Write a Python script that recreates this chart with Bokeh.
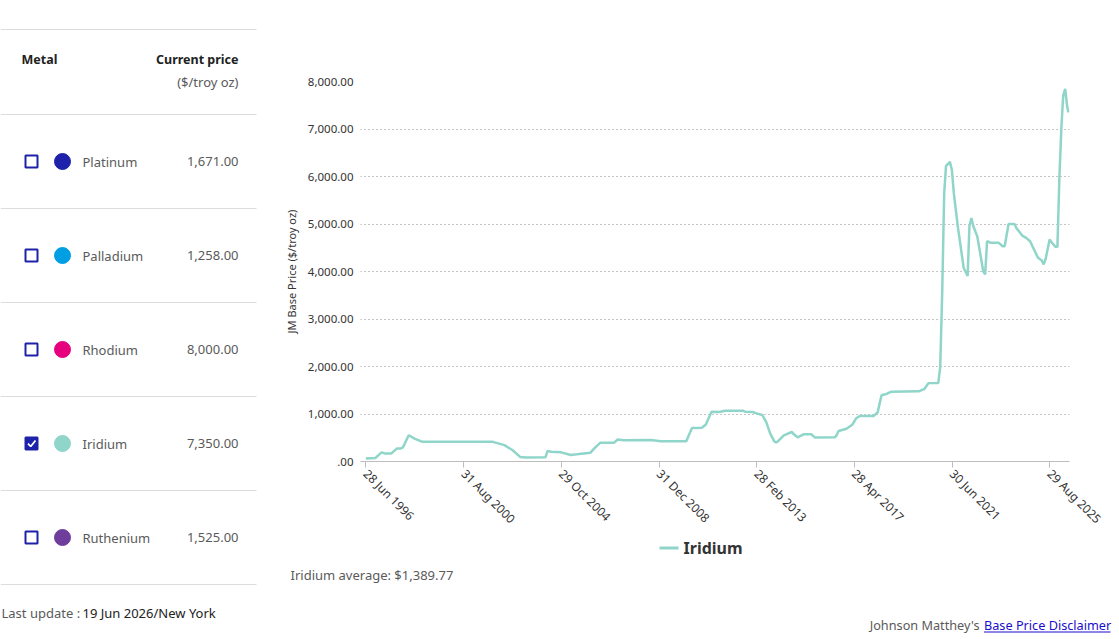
import math
import pandas as pd
from bokeh.plotting import figure
from bokeh.layouts import row, column
from bokeh.models import Range1d, FixedTicker, DatetimeTickFormatter, ColumnDataSource
from bokeh.core.properties import value
from bokeh.embed import file_html
from bokeh.resources import INLINE

FONT = "Noto Sans"

# ---- metal table -------------------------------------------------------
metals = ["Platinum", "Palladium", "Rhodium", "Iridium", "Ruthenium"]
metal_colors = ["#1e22aa", "#009ee3", "#e6007e", "#8fd5c9", "#6f3d9b"]
current_prices = [1671.00, 1258.00, 8000.00, 7350.00, 1525.00]
selected = [False, False, False, True, False]
last_update = "19 Jun 2026/New York"

# ---- Iridium base price history ($/troy oz) -----------------------------
iridium_dates = [
    "1996-06-28", "1996-11-28", "1997-02-28", "1997-04-28", "1997-07-28",
    "1997-10-28", "1997-12-28", "1998-01-28", "1998-04-28", "1998-07-28",
    "1998-11-28", "2001-11-28", "2002-05-28", "2002-09-28", "2003-01-28",
    "2003-04-28", "2004-02-28", "2004-03-28", "2004-05-28", "2004-10-28",
    "2005-03-28", "2005-06-28", "2006-01-28", "2006-03-28", "2006-06-28",
    "2007-01-28", "2007-03-28", "2007-06-28", "2008-08-28", "2009-01-28",
    "2010-02-28", "2010-03-28", "2010-05-28", "2010-10-28", "2010-12-28",
    "2011-03-28", "2011-07-28", "2011-10-28", "2012-07-28", "2012-08-28",
    "2012-12-28", "2013-02-28", "2013-05-28", "2013-07-28", "2013-09-28",
    "2013-11-28", "2013-12-28", "2014-01-28", "2014-04-28", "2014-08-28",
    "2014-09-28", "2014-11-28", "2015-02-28", "2015-06-28", "2015-08-28",
    "2016-06-28", "2016-07-28", "2016-08-28", "2016-12-28", "2017-03-28",
    "2017-05-28", "2017-07-28", "2018-02-28", "2018-04-28", "2018-06-28",
    "2018-08-28", "2018-11-28", "2020-01-28", "2020-04-28", "2020-06-28",
    "2020-11-28", "2020-12-28", "2021-01-28", "2021-02-28", "2021-03-28",
    "2021-05-28", "2021-06-28", "2021-07-28", "2021-08-28", "2021-09-28",
    "2021-12-28", "2022-02-28", "2022-03-28", "2022-04-28", "2022-05-28",
    "2022-07-28", "2022-09-28", "2022-10-28", "2022-11-28", "2022-12-28",
    "2023-02-28", "2023-06-28", "2023-08-28", "2023-09-28", "2023-11-28",
    "2024-02-28", "2024-03-28", "2024-06-28", "2024-08-28", "2024-10-28",
    "2025-02-28", "2025-04-28", "2025-05-28", "2025-06-28", "2025-08-28",
    "2025-09-28", "2025-11-28", "2025-12-28", "2026-01-28", "2026-02-28",
    "2026-03-28", "2026-04-28", "2026-05-28", "2026-06-19",
]
iridium_prices = [
    62, 76, 193, 166, 166,
    276, 276, 297, 552, 483,
    414, 414, 345, 241, 97,
    83, 90, 221, 207, 193,
    138, 152, 186, 276, 393,
    393, 462, 448, 455, 428,
    428, 517, 703, 710, 775,
    1048, 1041, 1069, 1069, 1048,
    1041, 1014, 979, 828, 586,
    428, 400, 428, 552, 621,
    579, 510, 572, 572, 503,
    510, 552, 641, 690, 772,
    910, 959, 959, 1034, 1393,
    1414, 1470, 1478, 1530, 1650,
    1655, 1987, 3557, 5649, 6220,
    6311, 6137, 5649, 5300, 4951,
    4080, 3905, 4951, 5126, 4951,
    4742, 4254, 4010, 3940, 4637,
    4603, 4603, 4533, 4533, 5000,
    5000, 4916, 4756, 4707, 4637,
    4289, 4233, 4149, 4268, 4672,
    4616, 4519, 4519, 5997, 7043,
    7706, 7845, 7476, 7350,
]
iridium_average = 1389.77

tick_dates = ["1996-06-28", "2000-08-31", "2004-10-29", "2008-12-31",
              "2013-02-28", "2017-04-28", "2021-06-30", "2025-08-29"]
price_ticks = [0, 1000, 2000, 3000, 4000, 5000, 6000, 7000, 8000]


def ms(d):
    return pd.Timestamp(d).timestamp() * 1000.0


TEXT_DARK = "#333333"
TEXT_GREY = "#5a5a5a"
RULE = "#dcdcdc"
NAVY = "#1e22aa"
LINK = "#1a0dcc"
IRIDIUM = "#8fd5c9"

W, H = 1119, 639
W_LEFT = 270
W_RIGHT = W - W_LEFT
H_CHART = 535               # chart band on the right
H_FOOT = H - H_CHART        # legend, average and disclaimer band

# ---- left panel: metal list --------------------------------------------
left = figure(width=W_LEFT, height=H, x_range=Range1d(0, W_LEFT), y_range=Range1d(H, 0),
              x_axis_type=None, y_axis_type=None, toolbar_location=None,
              output_backend="svg", min_border=0, outline_line_color=None)

row_y = [161 + 94 * i for i in range(len(metals))]
rules_y = [29] + [114 + 94 * i for i in range(len(metals) + 1)]
left.segment(x0=0, x1=256, y0=rules_y, y1=rules_y, line_color=RULE, line_width=1)

left.text(x=[21], y=[59], text=["Metal"], text_font=value(FONT), text_font_size="12.5px",
          text_font_style="bold", text_color="#222222", text_baseline="middle")
left.text(x=[238], y=[59], text=["Current price"], text_font=value(FONT), text_font_size="12.5px",
          text_font_style="bold", text_color="#222222", text_baseline="middle", text_align="right")
left.text(x=[238], y=[81], text=["($/troy oz)"], text_font=value(FONT), text_font_size="13px",
          text_color=TEXT_GREY, text_baseline="middle", text_align="right")

tbl = ColumnDataSource(dict(
    y=row_y, name=metals, color=metal_colors,
    price=[f"{p:,.2f}" for p in current_prices],
    box=[NAVY if s else "white" for s in selected],
))
left.rect(x=31, y="y", width=12, height=12, fill_color="box", line_color=NAVY,
          line_width=2, source=tbl)
for y, s in zip(row_y, selected):
    if s:
        left.line(x=[27.5, 30.2, 35], y=[y + 0.2, y + 3, y - 3], line_color="white", line_width=1.8)
left.scatter(x=62, y="y", size=16, fill_color="color", line_color="color", source=tbl)
left.text(x=82, y="y", text="name", text_font=value(FONT), text_font_size="13px",
          text_color=TEXT_GREY, text_baseline="middle", source=tbl)
left.text(x=238, y="y", text="price", text_font=value(FONT), text_font_size="13px",
          text_color=TEXT_GREY, text_baseline="middle", text_align="right", source=tbl)

left.text(x=[1], y=[612], text=["Last update :"], text_font=value(FONT), text_font_size="13px",
          text_color=TEXT_GREY, text_baseline="middle")
left.text(x=[82], y=[612], text=[last_update], text_font=value(FONT), text_font_size="13px",
          text_color="#222222", text_baseline="middle")

# ---- chart ---------------------------------------------------------------
dates_ms = [ms(d) for d in iridium_dates]
x_start = dates_ms[0] - 82 * 86400000.0
x_end = dates_ms[-1] + 15 * 86400000.0

chart = figure(width=W_RIGHT, height=H_CHART, x_axis_type="datetime",
               x_range=Range1d(x_start, x_end), y_range=Range1d(0, 8000),
               toolbar_location=None, output_backend="svg",
               min_border_left=90, min_border_right=50, min_border_top=81,
               min_border_bottom=H_CHART - 463, outline_line_color=None)

chart.line(x=dates_ms, y=iridium_prices, line_color=IRIDIUM, line_width=2.5)

chart.xgrid.grid_line_color = None
chart.ygrid.grid_line_color = "#8a8a8a"
chart.ygrid.grid_line_dash = "1 3"
chart.ygrid.ticker = FixedTicker(ticks=price_ticks)

xa = chart.xaxis[0]
xa.ticker = FixedTicker(ticks=[ms(d) for d in tick_dates])
fmt = "%d %b %Y"
xa.formatter = DatetimeTickFormatter(
    microseconds=fmt, milliseconds=fmt, seconds=fmt, minsec=fmt, minutes=fmt,
    hourmin=fmt, hours=fmt, days=fmt, months=fmt, years=fmt)
xa.major_label_orientation = -math.pi / 4
xa.axis_line_color = "#bdbdbd"
xa.major_tick_line_color = "#bdbdbd"
xa.major_tick_out = 6
xa.major_tick_in = 0
xa.minor_tick_line_color = None
xa.major_label_text_font = FONT
xa.major_label_text_font_size = "12px"
xa.major_label_text_color = TEXT_DARK
xa.major_label_standoff = 4

ya = chart.yaxis[0]
ya.ticker = FixedTicker(ticks=price_ticks)
ya.major_label_overrides = {
    t: (f"{t:,.2f}".lstrip("0") if t == 0 else f"{t:,.2f}") for t in price_ticks
}
ya.axis_line_color = None
ya.major_tick_line_color = None
ya.minor_tick_line_color = None
ya.major_tick_out = 0
ya.major_tick_in = 0
ya.major_label_standoff = 7
ya.major_label_text_font = FONT
ya.major_label_text_font_size = "11.5px"
ya.major_label_text_color = TEXT_DARK
ya.axis_label = "JM Base Price ($/troy oz)"
ya.axis_label_text_font = FONT
ya.axis_label_text_font_size = "11px"
ya.axis_label_text_font_style = "normal"
ya.axis_label_text_color = TEXT_DARK
ya.axis_label_standoff = 6

# ---- bottom band: legend, average and disclaimer ------------------------
foot = figure(width=W_RIGHT, height=H_FOOT, x_range=Range1d(W_LEFT, W),
              y_range=Range1d(H, H_CHART), x_axis_type=None, y_axis_type=None,
              toolbar_location=None, output_backend="svg", min_border=0,
              outline_line_color=None)

foot.line(x=[659, 678], y=[547.5, 547.5], line_color=IRIDIUM, line_width=3)
foot.text(x=[683], y=[547.5], text=["Iridium"], text_font=value(FONT), text_font_size="16px",
          text_font_style="bold", text_color=TEXT_DARK, text_baseline="middle")
foot.text(x=[290], y=[574], text=[f"Iridium average: ${iridium_average:,.2f}"],
          text_font=value(FONT), text_font_size="13px", text_color=TEXT_GREY,
          text_baseline="middle")
foot.text(x=[979], y=[624], text=["Johnson Matthey's"], text_font=value(FONT),
          text_font_size="12.7px", text_color=TEXT_GREY, text_baseline="middle",
          text_align="right")
foot.text(x=[983.5], y=[624], text=["Base Price Disclaimer"], text_font=value(FONT),
          text_font_size="12.7px", text_color=LINK, text_baseline="middle")
foot.segment(x0=[983.5], x1=[1110], y0=[631.5], y1=[631.5], line_color=LINK, line_width=1)

layout = row(left, column(row(chart), row(foot)))
open("out.html", "w").write(file_html(layout, INLINE))
